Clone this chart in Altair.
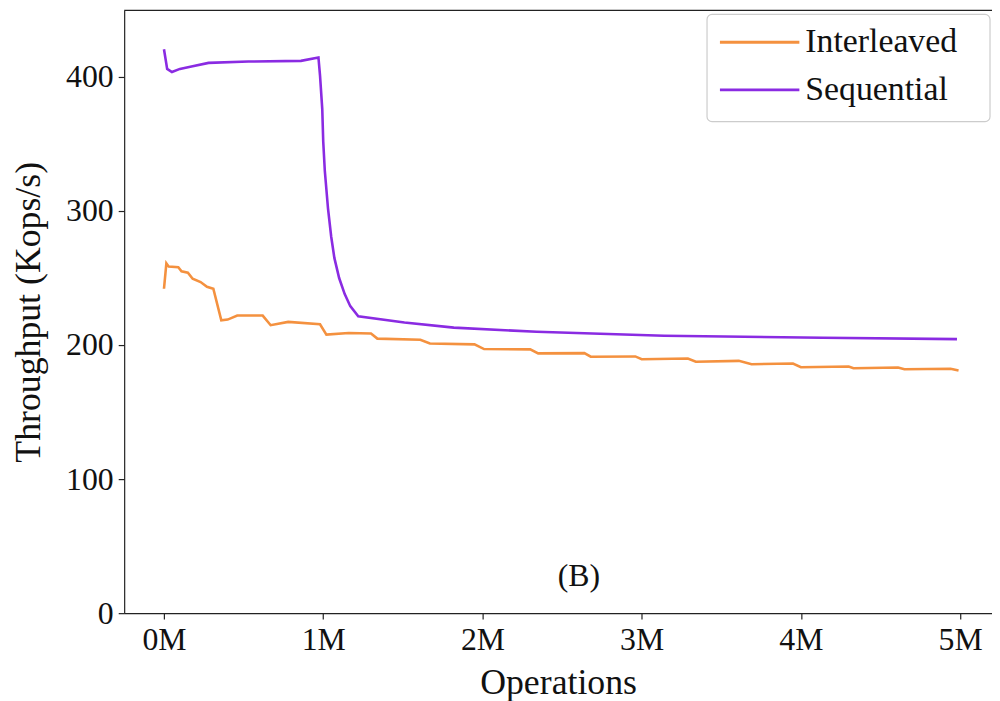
import altair as alt
import pandas as pd

series_names = ["Interleaved", "Sequential"]
series_colors = ["#f4913f", "#8a2be2"]

# Interleaved (orange) - operations in millions, throughput in Kops/s
ops_interleaved = [0, 0.015, 0.03, 0.09, 0.11, 0.15, 0.18, 0.23, 0.27, 0.31, 0.36, 0.40,
                   0.46, 0.62, 0.67, 0.78, 0.98, 1.02, 1.16, 1.30, 1.34, 1.61, 1.67, 1.95,
                   2.01, 2.30, 2.35, 2.64, 2.68, 2.96, 3.00, 3.29, 3.34, 3.61, 3.69, 3.95,
                   4.00, 4.30, 4.33, 4.61, 4.65, 4.94, 4.99]
thr_interleaved = [242, 261, 258.5, 258, 255, 254, 249.5, 247, 243.5, 242, 218.5, 219,
                   222, 222, 214.8, 217.3, 215.5, 207.8, 209, 208.6, 204.8, 204, 201.2, 200.5,
                   197, 196.8, 193.8, 194, 191.3, 191.5, 189.4, 190, 187.6, 188.2, 185.7, 186.2,
                   183.5, 184, 182.7, 183.3, 182, 182.3, 181]

# Sequential (purple)
ops_sequential = [0, 0.02, 0.05, 0.1, 0.18, 0.28, 0.53, 0.86, 0.97, 0.98, 0.994, 1.0,
                  1.01, 1.03, 1.05, 1.07, 1.10, 1.135, 1.17, 1.22, 1.51, 1.82, 2.34, 3.14, 4.14, 4.98]
thr_sequential = [420.6, 406, 403.7, 406, 408, 410.5, 411.5, 412, 414.5, 401, 376, 352,
                  330, 302, 281, 265, 250, 238, 229, 221.5, 216.8, 213, 209.9, 206.9, 205.4, 204.4]

x_ticks = [0, 1, 2, 3, 4, 5]
y_ticks = [0, 100, 200, 300, 400]

rows = []
for o, t in zip(ops_interleaved, thr_interleaved):
    rows.append({"ops": o, "thr": t, "series": series_names[0], "order": len(rows)})
for o, t in zip(ops_sequential, thr_sequential):
    rows.append({"ops": o, "thr": t, "series": series_names[1], "order": len(rows)})
df = pd.DataFrame(rows)

FONT = "Liberation Serif"
W, H = 874, 607
color_scale = alt.Scale(domain=series_names, range=series_colors)

lines = alt.Chart(df).mark_line(strokeWidth=2.6).encode(
    x=alt.X("ops:Q", scale=alt.Scale(domain=[-0.25, 5.2], nice=False, zero=False),
            axis=alt.Axis(values=x_ticks, labelExpr="datum.value + 'M'", title="Operations",
                          grid=False, tickSize=6, labelPadding=6, titlePadding=10)),
    y=alt.Y("thr:Q", scale=alt.Scale(domain=[0, 449.6], nice=False),
            axis=alt.Axis(values=y_ticks, title="Throughput (Kops/s)", grid=False,
                          tickSize=6, labelPadding=5, titlePadding=18)),
    color=alt.Color("series:N", scale=color_scale, legend=None),
    order="order:Q",
)

top_spine = alt.Chart(pd.DataFrame({"a": [0]})).mark_rule(color="#222", strokeWidth=1.2).encode(
    x=alt.value(0), x2=alt.value(W), y=alt.value(0)
)

label_b = alt.Chart(pd.DataFrame({"t": ["(B)"]})).mark_text(
    font=FONT, fontSize=32, color="#111", align="center", baseline="middle"
).encode(text="t:N", x=alt.value(458), y=alt.value(570))

# Manual legend (box, line swatches, labels)
legend_df = pd.DataFrame({"series": series_names, "row": [0, 1]})
row_scale = alt.Scale(domain=[0, 1], range=[32, 80])
legend_box = alt.Chart(pd.DataFrame({"a": [0]})).mark_rect(
    fill="white", stroke="#cccccc", strokeWidth=1.2, cornerRadius=5
).encode(x=alt.value(587), x2=alt.value(872), y=alt.value(4), y2=alt.value(112))

legend_lines = alt.Chart(legend_df).mark_rule(strokeWidth=3).encode(
    x=alt.value(600), x2=alt.value(680),
    y=alt.Y("row:Q", scale=row_scale, axis=None),
    color=alt.Color("series:N", scale=color_scale, legend=None),
)
legend_text = alt.Chart(legend_df).mark_text(
    font=FONT, fontSize=34, color="#111", align="left", baseline="middle"
).encode(
    x=alt.value(686),
    y=alt.Y("row:Q", scale=row_scale, axis=None),
    text="series:N",
)

chart = alt.layer(lines, top_spine, label_b, legend_box, legend_lines, legend_text).resolve_scale(
    y="independent"
).properties(
    width=W, height=H,
    autosize=alt.AutoSizeParams(type="none"),
    padding={"left": 117, "top": 0, "right": 0, "bottom": 86},
    background="white",
).configure_view(stroke=None).configure_axis(
    labelFont=FONT, titleFont=FONT, labelFontSize=32, titleFontSize=36,
    labelColor="#111", titleColor="#111", titleFontWeight="normal",
    domainColor="#222", tickColor="#222", domainWidth=1.2, tickWidth=1.2,
)

chart.save("out.html", embed_options={"renderer": "svg", "actions": False})
